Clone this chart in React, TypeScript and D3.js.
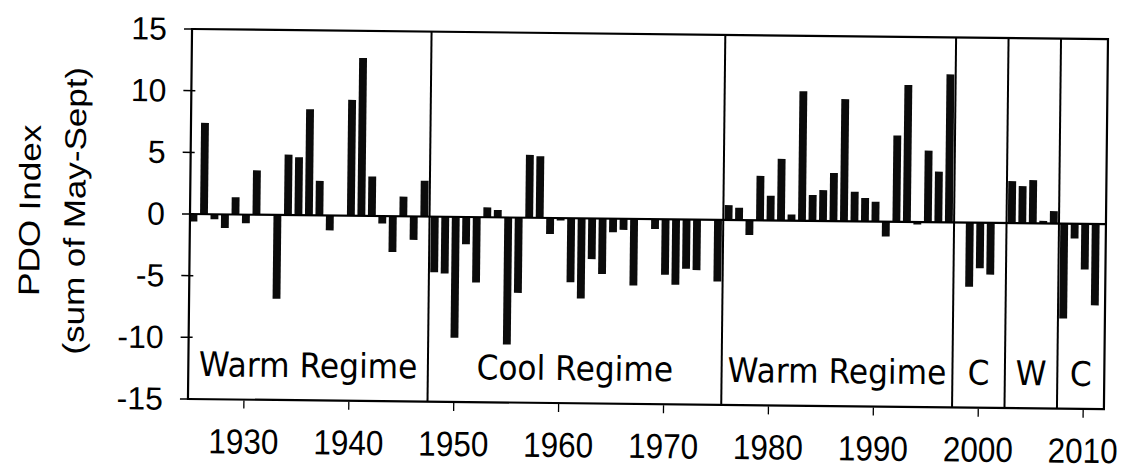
import React from 'react';
import * as d3 from 'd3';

const years: number[] = [
  1925, 1926, 1927, 1928, 1929, 1930, 1931, 1932, 1933, 1934, 1935, 1936, 1937, 1938, 1939,
  1940, 1941, 1942, 1943, 1944, 1945, 1946, 1947, 1948, 1949, 1950, 1951, 1952, 1953, 1954,
  1955, 1956, 1957, 1958, 1959, 1960, 1961, 1962, 1963, 1964, 1965, 1966, 1967, 1968, 1969,
  1970, 1971, 1972, 1973, 1974, 1975, 1976, 1977, 1978, 1979, 1980, 1981, 1982, 1983, 1984,
  1985, 1986, 1987, 1988, 1989, 1990, 1991, 1992, 1993, 1994, 1995, 1996, 1997, 1998, 1999,
  2000, 2001, 2002, 2003, 2004, 2005, 2006, 2007, 2008, 2009, 2010, 2011,
];

const pdoIndex: number[] = [
  -0.6, 7.4, -0.4, -1.1, 1.4, -0.7, 3.6, 0, -6.8, 4.9, 4.7, 8.6, 2.8, -1.2, 0,
  9.4, 12.8, 3.2, -0.6, -2.9, 1.6, -1.9, 2.9, -4.5, -4.6, -9.8, -2.2, -5.3, 0.8, 0.6,
  -10.3, -6.1, 5.1, 5.0, -1.3, -0.2, -5.2, -6.5, -3.3, -4.5, -1.1, -0.9, -5.4, 0, -0.8,
  -4.5, -5.3, -4.0, -4.1, 0, -5.0, 1.2, 1.0, -1.2, 3.6, 2.0, 5.0, 0.5, 10.5, 2.1,
  2.5, 3.9, 9.9, 2.4, 1.9, 1.6, -1.2, 7.0, 11.1, -0.2, 5.8, 4.1, 12.0, 0, -5.2,
  -3.7, -4.2, 0, 3.4, 3.0, 3.5, 0.2, 1.0, -7.7, -1.2, -3.7, -6.6,
];

const yTicks: number[] = [15, 10, 5, 0, -5, -10, -15];
const xTickYears: number[] = [1930, 1940, 1950, 1960, 1970, 1980, 1990, 2000, 2010];

const regimeNames: string[] = ['Warm Regime', 'Cool Regime', 'Warm Regime', 'C', 'W', 'C'];
const regimeStart: number[] = [1925, 1948, 1976, 1998, 2003, 2008];
const regimeEnd: number[] = [1947, 1975, 1997, 2002, 2007, 2011];

export default function App() {
  const W = 1124;
  const H = 472;
  const left = 190;
  const right = 1106;
  const top = 29;
  const bottom = 399;

  const x = d3
    .scaleBand<number>()
    .domain(years)
    .range([188.25, 1101])
    .paddingInner(0.25)
    .paddingOuter(0.125);
  const y = d3.scaleLinear().domain([-15, 15]).range([bottom, top]);
  const step = x.step();
  const bw = x.bandwidth();
  const cx = (yr: number) => (x(yr) as number) + bw / 2;
  const boundary = (yr: number) => cx(yr) + step / 2;

  const tickFont = '"Liberation Sans", Arial, sans-serif';
  const regimeFont = '"DejaVu Sans", sans-serif';

  return (
    <svg
      width={W}
      height={H}
      viewBox={`0 0 ${W} ${H}`}
      style={{ position: 'absolute', left: 0, top: 0, background: '#fff' }}
    >
      <rect x={0} y={0} width={W} height={H} fill="#fff" />
      <g transform="rotate(0.63 190 214)">
        {/* bars */}
        {years.map((yr, i) => {
          const v = pdoIndex[i];
          const y0 = y(0);
          const y1 = y(v);
          return (
            <rect
              key={yr}
              x={x(yr) as number}
              y={Math.min(y0, y1)}
              width={bw}
              height={Math.max(Math.abs(y1 - y0), 0)}
              fill="#0b0b0b"
            />
          );
        })}

        {/* zero line */}
        <line x1={left} x2={right} y1={y(0)} y2={y(0)} stroke="#000" strokeWidth={2.2} />

        {/* regime separators */}
        {regimeEnd.slice(0, -1).map((e) => (
          <line
            key={'sep' + e}
            x1={boundary(e)}
            x2={boundary(e)}
            y1={top}
            y2={bottom}
            stroke="#000"
            strokeWidth={2}
          />
        ))}

        {/* frame */}
        <rect
          x={left}
          y={top}
          width={right - left}
          height={bottom - top}
          fill="none"
          stroke="#000"
          strokeWidth={2.2}
        />

        {/* y ticks */}
        {yTicks.map((t) => (
          <g key={'yt' + t}>
            <line x1={left - 8} x2={left + 4} y1={y(t)} y2={y(t)} stroke="#000" strokeWidth={1.5} />
            <text
              x={165}
              y={y(t)}
              textAnchor="end"
              dominantBaseline="central"
              fontFamily={tickFont}
              fontSize={32}
              fill="#000"
            >
              {t}
            </text>
          </g>
        ))}

        {/* x ticks */}
        {xTickYears.map((t) => (
          <g key={'xt' + t}>
            <line x1={cx(t)} x2={cx(t)} y1={bottom + 1} y2={bottom + 9} stroke="#000" strokeWidth={1.3} />
            <g transform={`translate(${cx(t)},453) scale(0.9,1)`}>
              <text x={0} y={0} textAnchor="middle" fontFamily={tickFont} fontSize={35} fill="#000">
                {t}
              </text>
            </g>
          </g>
        ))}

        {/* regime labels */}
        {regimeNames.map((name, i) => {
          const x0 = i === 0 ? left : boundary(regimeEnd[i - 1]);
          const x1 = i === regimeNames.length - 1 ? right : boundary(regimeEnd[i]);
          const mid = (x0 + x1) / 2;
          return (
            <g key={'rg' + i} transform={`translate(${mid},376) scale(0.92,1)`}>
              <text x={0} y={0} textAnchor="middle" fontFamily={regimeFont} fontSize={34} fill="#000">
                {name}
              </text>
            </g>
          );
        })}

        {/* y axis title */}
        <g transform="translate(40,212) scale(0.85,1) rotate(-90)">
          <text x={0} y={0} textAnchor="middle" fontFamily={tickFont} fontSize={35} fill="#000">
            PDO Index
          </text>
        </g>
        <g transform="translate(85,212) scale(0.85,1) rotate(-90)">
          <text x={0} y={0} textAnchor="middle" fontFamily={tickFont} fontSize={35} fill="#000">
            (sum of May-Sept)
          </text>
        </g>
      </g>
    </svg>
  );
}
